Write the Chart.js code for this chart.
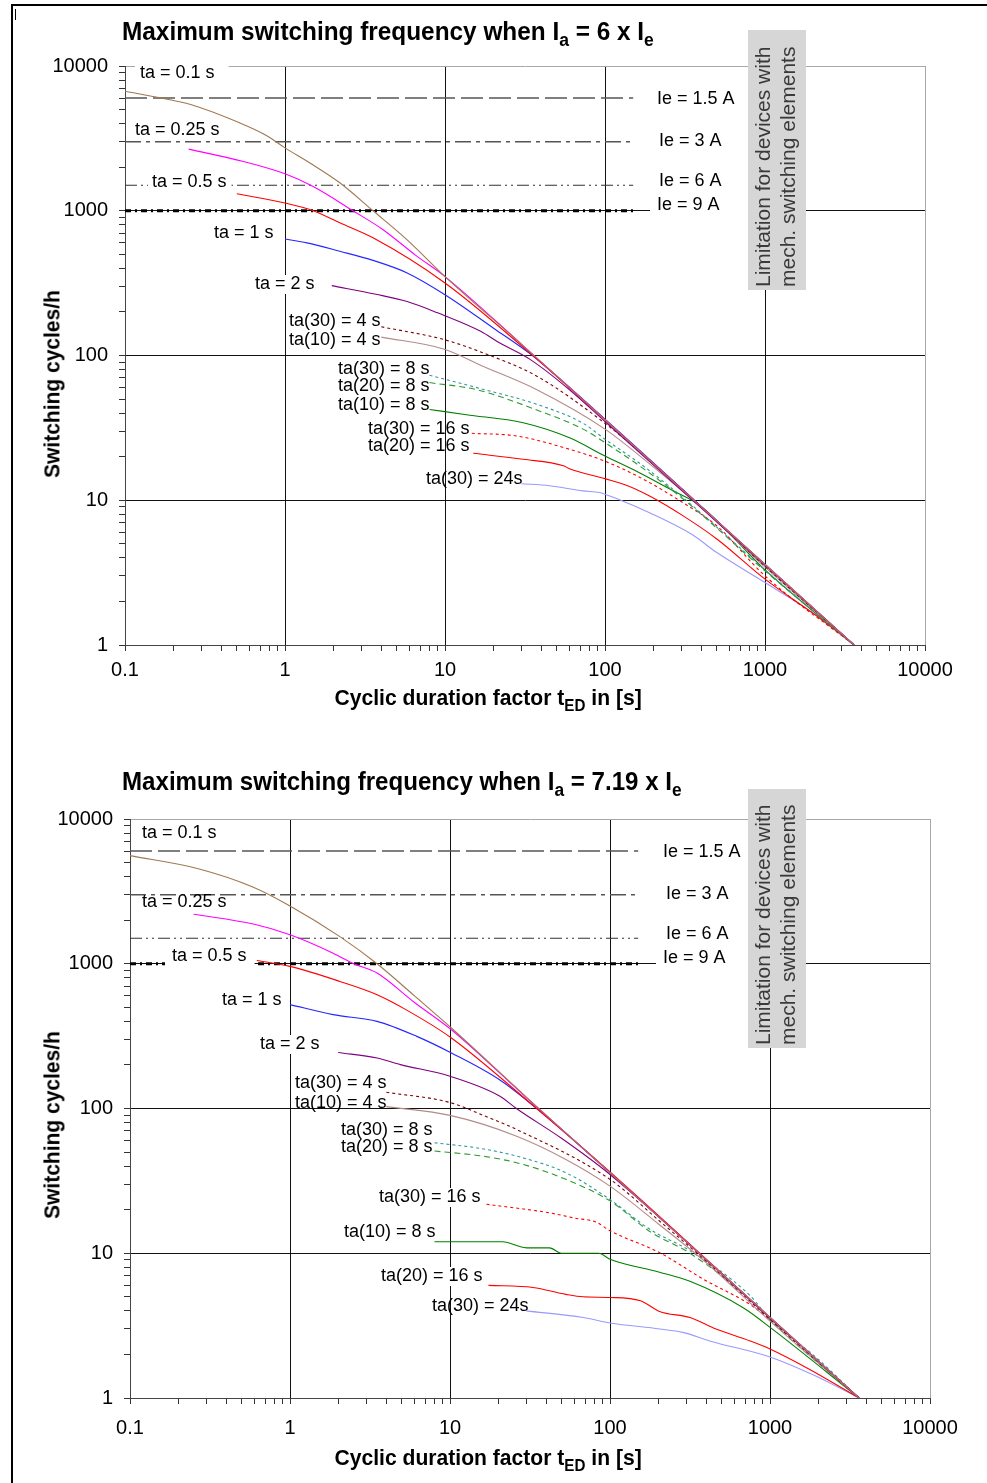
<!DOCTYPE html>
<html>
<head>
<meta charset="utf-8">
<script src="https://cdn.jsdelivr.net/npm/chart.js@4.4.1/dist/chart.umd.min.js"></script>
<style>
  body { margin: 0; background: #fff; }
  #page { position: relative; width: 987px; height: 1483px; overflow: hidden; background: #fff; }
  .frame { position: absolute; left: 11px; top: 4px; width: 990px; height: 1490px; border-top: 2px solid #000; border-left: 2px solid #000; }
  .nick { position: absolute; left: 15px; top: 9px; width: 1px; height: 11px; background: #000; }
  canvas { position: absolute; left: 0; }
  .ttl { position: absolute; font-family: "Liberation Sans", Arial, sans-serif; font-weight: bold; color: #000;
         white-space: nowrap; line-height: 26px; z-index: 2; }
  .ttl sub { font-size: 72%; vertical-align: -0.35em; line-height: 0; }
  .main { font-size: 25px; }
  .xt, .yt { font-size: 22px; }
</style>
</head>
<body>
<div id="page">
  <div class="frame"></div>
  <div class="nick"></div>

  <div class="ttl main" id="mainA">Maximum switching frequency when I<sub>a</sub> = 6 x I<sub>e</sub></div>
  <div class="ttl yt" id="yA">Switching cycles/h</div>
  <div class="ttl xt" id="xA">Cyclic duration factor t<sub>ED</sub> in [s]</div>
  <canvas id="chartA" width="987" height="740" style="top:0"></canvas>

  <div class="ttl main" id="mainB">Maximum switching frequency when I<sub>a</sub> = 7.19 x I<sub>e</sub></div>
  <div class="ttl yt" id="yB">Switching cycles/h</div>
  <div class="ttl xt" id="xB">Cyclic duration factor t<sub>ED</sub> in [s]</div>
  <canvas id="chartB" width="987" height="743" style="top:740px"></canvas>
</div>

<script>
// axis decades and their tick labels
const X_DECADES = [0.1, 1, 10, 100, 1000, 10000];
const X_TICK_LABELS = ['0.1', '1', '10', '100', '1000', '10000'];
const Y_DECADES = [1, 10, 100, 1000, 10000];
const Y_TICK_LABELS = ['1', '10', '100', '1000', '10000'];

// curve names (same order in both charts)
const SERIES_NAMES = ['ta = 0.1 s', 'ta = 0.25 s', 'ta = 0.5 s', 'ta = 1 s', 'ta = 2 s',
  'ta(30) = 4 s', 'ta(10) = 4 s', 'ta(30) = 8 s', 'ta(20) = 8 s', 'ta(10) = 8 s',
  'ta(30) = 16 s', 'ta(20) = 16 s', 'ta(30) = 24s'];

// rated current limits (horizontal lines)
const IE_NAMES = ['Ie = 1.5 A', 'Ie = 3 A', 'Ie = 6 A', 'Ie = 9 A'];
const IE_LEVELS = [6000, 3000, 1500, 1000];
const IE_X = [0.1, 150];

const LIMIT_TEXT = ['Limitation for devices with', 'mech. switching elements'];

// Ia = 6 x Ie : [tED s, cycles/h]
const a_ta0_1 = [[0.1,6700],[0.17,6000],[0.26,5400],[0.52,4050],[0.77,3300],[1,2720],[1.43,2140],[2.2,1560],[3.55,1000],[5.8,630],[10,351],[30,120],[100,36],[1000,3.6],[3600,1]];
const a_ta0_25 = [[0.25,2665],[0.55,2190],[1,1800],[1.5,1470],[2.66,1000],[4.1,740],[6.6,490],[10,351],[30,120],[100,36],[1000,3.6],[3600,1]];
const a_ta0_5 = [[0.5,1310],[1,1130],[1.5,1000],[2.2,825],[3.55,650],[10,317],[32,110],[100,36],[1000,3.6],[3600,1]];
const a_ta1 = [[1,638],[1.37,600],[2.2,525],[3.55,454],[5.8,372],[10,263],[20,155],[35.5,99],[100,36.3],[1000,3.6],[3600,1]];
const a_ta2 = [[1.96,304],[3.7,265],[5.8,236],[8.9,198],[16.7,147],[22,122],[34,94],[60,58],[100,35],[1000,3.55],[3600,1]];
const a_ta30_4 = [[4,158],[9.8,129],[17.4,104],[37.5,72],[100,34],[200,18],[400,9],[1000,3.5],[3600,1]];
const a_ta10_4 = [[4,134],[9.8,111],[17.4,84],[37.5,58],[100,31],[200,17],[400,8.9],[1000,3.45],[3600,1]];
const a_ta30_8 = [[8,73],[15.8,60],[37.5,46],[73,34],[100,26.4],[173,17.3],[308,10.4],[1000,3.3],[3600,1]];
const a_ta20_8 = [[8,65],[15.8,58],[37.5,42],[73,31],[100,25],[173,16.6],[308,10.2],[1000,3.25],[3600,1]];
const a_ta10_8 = [[8,42.4],[13.6,39],[30.8,34.3],[60,27],[100,20.2],[164,15.5],[256,11.9],[395,9.15],[1000,3.3],[3600,1]];
const a_ta30_16 = [[14.7,29],[28,27.8],[60,22.5],[100,18.6],[173,14],[308,9.6],[500,6.65],[1000,3],[3600,1]];
const a_ta20_16 = [[15,21.1],[30.8,19.2],[55,17.3],[60,16.5],[100,14.1],[136,12.7],[190,10.7],[308,7.8],[500,5.4],[1000,2.85],[2100,1.59],[3600,1]];
const a_ta30_24 = [[30,13],[45,12.6],[73,11.6],[93,11.3],[100,11],[118,10.3],[190,8.2],[350,5.8],[500,4.35],[1000,2.7],[2100,1.6],[3600,1]];

// Ia = 7.19 x Ie : [tED s, cycles/h]
const b_ta0_1 = [[0.1,5585],[0.26,4570],[0.59,3380],[1,2510],[2.05,1540],[3.5,1000],[6,600],[10.2,360],[30,120],[100,36],[1000,3.6],[3600,1]];
const b_ta0_25 = [[0.25,2200],[0.59,1880],[1,1585],[1.86,1183],[2.5,1000],[3.5,863],[6,540],[10.2,350],[30,119],[100,36],[1000,3.6],[3600,1]];
const b_ta0_5 = [[0.62,1054],[1,959],[2.05,755],[3.5,611],[5.3,482],[10.2,307],[30,115],[100,36.5],[1000,3.6],[3600,1]];
const b_ta1 = [[1,522],[1.86,445],[3.5,400],[6.2,315],[10.2,242],[20.4,158],[40,88],[100,36],[1000,3.6],[3600,1]];
const b_ta2 = [[2,244],[3.5,223],[4.9,201],[10,167],[20.4,122],[26,100],[50,62],[100,35],[1000,3.55],[3600,1]];
const b_ta30_4 = [[4,129.5],[10,110],[16,90],[26.1,71.6],[100,32.4],[200,17],[400,8.8],[1000,3.5],[3600,1]];
const b_ta10_4 = [[4,103],[10,89.6],[26.1,64.4],[53,44.5],[100,29.1],[200,16],[400,8.6],[1000,3.4],[3600,1]];
const b_ta30_8 = [[8,58],[16,52.7],[28.6,45.6],[53,36],[100,23.5],[178,14.6],[316,10.4],[750,5.1],[1000,3.5],[1950,1.9],[3600,1]];
const b_ta20_8 = [[8,50.8],[16,46.9],[28.6,41.1],[53,32.4],[100,23],[180,14],[316,10],[750,4.8],[1000,3.45],[3600,1]];
const b_ta10_8 = [[8,12],[21.3,12],[30,10.9],[42,10.9],[49.5,10],[85,10],[100,9.1],[204,7.4],[316,6.4],[680,4.2],[1030,3],[3600,1]];
const b_ta30_16 = [[16.9,21.8],[42,19],[60,17.5],[82,16.4],[100,14.3],[204,10.1],[385,6.6],[780,4.3],[1050,3.3],[3600,1]];
const b_ta20_16 = [[17.4,6],[33,5.8],[53,5.2],[68,5],[100,4.95],[155,4.7],[204,3.96],[316,3.6],[460,3],[750,2.48],[1000,2.18],[1760,1.58],[3600,1]];
const b_ta30_24 = [[30,4],[68,3.6],[100,3.3],[204,3],[285,2.84],[420,2.48],[1030,1.9],[1900,1.43],[3600,1]];

const CURVES_A = [a_ta0_1, a_ta0_25, a_ta0_5, a_ta1, a_ta2, a_ta30_4, a_ta10_4, a_ta30_8, a_ta20_8, a_ta10_8, a_ta30_16, a_ta20_16, a_ta30_24];
const CURVES_B = [b_ta0_1, b_ta0_25, b_ta0_5, b_ta1, b_ta2, b_ta30_4, b_ta10_4, b_ta30_8, b_ta20_8, b_ta10_8, b_ta30_16, b_ta20_16, b_ta30_24];

// styles
const SERIES_COLORS = ['#a07850', '#ff00ff', '#ff0000', '#2626ff', '#800080', '#800000', '#b58a8a',
  '#2e9a9a', '#2e9a2e', '#008000', '#ff0000', '#ff0000', '#9999ff'];
const SERIES_DASH = [[], [], [], [], [], [3, 3], [], [3, 3], [6, 4], [], [3, 3], [], []];
const IE_COLORS = ['#555', '#555', '#333', '#000'];
const IE_WIDTHS = [1.5, 1.5, 1.2, 3];
const IE_DASH = [[22, 6], [16, 5, 4, 5], [12, 4, 2, 4, 2, 4], [6, 4, 2, 4]];

// label placement, px from chart-area top-left: [dx, dy, padLeft, padRight] (pad null = no white box)
const LABEL_POS_A = [[15,7,5,14],[10,64,4,4],[27,116,4,5],[89,167,8,8],[130,218,7,7],[164,255,null],[164,274,null],
  [213,303,null],[213,320,null],[213,339,null],[243,363,null],[243,380,null],[301,413,null]];
const LABEL_POS_B = [[12,14,4,4],[12,83,null],[42,137,7,8],[92,181,5,4],[130,225,7,7],[165,264,null],[165,284,null],
  [211,311,null],[211,328,null],[214,413,null],[249,378,7,3],[251,457,8,3],[302,487,null]];
const IE_POS_A = [[532,33,5,5],[534,75,5,5],[534,115,5,5],[532,139,7,30]];
const IE_POS_B = [[533,33,5,5],[536,75,5,5],[536,115,5,5],[533,139,7,30]];

const FONT = '"Liberation Sans", Arial, sans-serif';

function logTicks(decades) {
  const out = [];
  decades.forEach((d, i) => {
    if (i === decades.length - 1) { out.push({ value: d }); return; }
    for (let m = 1; m <= 9; m++) out.push({ value: m === 1 ? d : +(m * d).toPrecision(6) });
  });
  return out;
}
function decadeIndex(v, decades) { return decades.findIndex(d => Math.abs(v / d - 1) < 1e-6); }
function gridColor(v, decades) {
  const i = decadeIndex(v, decades);
  if (i < 0) return 'rgba(0,0,0,0)';
  if (i === decades.length - 1) return '#a8a8a8';
  if (i === 0) return '#444';
  return '#111';
}

function drawLabel(ctx, ca, text, pos) {
  const x = ca.left + pos[0], y = ca.top + pos[1];
  if (pos[2] != null) {
    const w = ctx.measureText(text).width;
    ctx.fillStyle = '#fff';
    ctx.fillRect(x - pos[2], y - 9, w + pos[2] + pos[3], 19);
  }
  ctx.fillStyle = '#000';
  ctx.fillText(text, x, y);
}

const overlayPlugin = {
  id: 'overlay',
  afterDatasetsDraw(chart, args, opts) {
    const { ctx, chartArea: ca } = chart;
    ctx.save();
    ctx.font = '18px ' + FONT;
    ctx.textBaseline = 'middle';
    ctx.textAlign = 'left';
    SERIES_NAMES.forEach((t, i) => drawLabel(ctx, ca, t, opts.labels[i]));
    IE_NAMES.forEach((t, i) => drawLabel(ctx, ca, t, opts.ie[i]));

    // grey box: limitation for devices with mechanical switching elements
    const b = opts.box;
    ctx.fillStyle = '#d6d6d6';
    ctx.fillRect(ca.left + b[0], ca.top + b[1], b[2], b[3]);
    ctx.translate(ca.left + b[0] + b[2] / 2, ca.top + b[1] + b[3] - 3);
    ctx.rotate(-Math.PI / 2);
    ctx.fillStyle = '#3a3a3a';
    ctx.font = '21px ' + FONT;
    ctx.fillText(LIMIT_TEXT[0], 0, -12.5);
    ctx.fillText(LIMIT_TEXT[1], 0, 12.5);
    ctx.restore();
  }
};

function buildChart(id, curves, labelPos, iePos, box, padding, xPad) {
  const datasets = curves.map((pts, i) => ({
    label: SERIES_NAMES[i],
    data: pts.map(p => ({ x: p[0], y: p[1] })),
    showLine: true,
    borderColor: SERIES_COLORS[i],
    borderWidth: 1.1,
    borderDash: SERIES_DASH[i],
    pointRadius: 0,
    cubicInterpolationMode: 'monotone',
    fill: false
  }));
  IE_LEVELS.forEach((lv, i) => {
    datasets.push({
      label: IE_NAMES[i],
      data: IE_X.map(x => ({ x: x, y: lv })),
      showLine: true,
      borderColor: IE_COLORS[i],
      borderWidth: IE_WIDTHS[i],
      borderDash: IE_DASH[i],
      pointRadius: 0,
      fill: false
    });
  });

  return new Chart(document.getElementById(id), {
    type: 'scatter',
    data: { datasets: datasets },
    options: {
      responsive: false,
      animation: false,
      devicePixelRatio: 1,
      layout: { padding: padding },
      plugins: {
        legend: { display: false },
        tooltip: { enabled: false },
        overlay: { labels: labelPos, ie: iePos, box: box }
      },
      scales: {
        x: {
          type: 'logarithmic',
          min: 0.1,
          max: 10000,
          afterBuildTicks: s => { s.ticks = logTicks(X_DECADES); },
          afterFit: s => { s.height = 60; },
          ticks: {
            autoSkip: false, maxRotation: 0, padding: xPad, color: '#000',
            font: { family: FONT, size: 20 },
            callback: v => { const i = decadeIndex(v, X_DECADES); return i >= 0 ? X_TICK_LABELS[i] : ''; }
          },
          grid: { color: c => gridColor(c.tick.value, X_DECADES), tickColor: '#333', tickLength: 6 },
          border: { color: '#444' }
        },
        y: {
          type: 'logarithmic',
          min: 1,
          max: 10000,
          afterBuildTicks: s => { s.ticks = logTicks(Y_DECADES); },
          afterFit: s => { s.width = padding.yw; },
          ticks: {
            autoSkip: false, padding: 11, color: '#000',
            font: { family: FONT, size: 20 },
            callback: v => { const i = decadeIndex(v, Y_DECADES); return i >= 0 ? Y_TICK_LABELS[i] : ''; }
          },
          grid: { color: c => gridColor(c.tick.value, Y_DECADES), tickColor: '#333', tickLength: 6 },
          border: { color: '#444' }
        }
      }
    },
    plugins: [overlayPlugin]
  });
}

buildChart('chartA', CURVES_A, LABEL_POS_A, IE_POS_A, [623, -36, 58, 260],
  { left: 0, top: 66, right: 62, bottom: 35, yw: 125 }, 7);
buildChart('chartB', CURVES_B, LABEL_POS_B, IE_POS_B, [618, -30, 58, 259],
  { left: 0, top: 79, right: 57, bottom: 25, yw: 130 }, 12);

// squeeze the bold titles to the condensed width of the original
function placeTitle(id, targetW, cx, cy, rotated, leftAligned) {
  const el = document.getElementById(id);
  const w = el.offsetWidth, h = el.offsetHeight;
  const s = targetW / w;
  if (rotated) {
    el.style.left = (cx - w / 2) + 'px';
    el.style.top = (cy - h / 2) + 'px';
    el.style.transform = 'rotate(-90deg) scaleX(' + s + ')';
  } else if (leftAligned) {
    el.style.left = cx + 'px';
    el.style.top = (cy - h / 2) + 'px';
    el.style.transformOrigin = '0 50%';
    el.style.transform = 'scaleX(' + s + ')';
  } else {
    el.style.left = (cx - w / 2) + 'px';
    el.style.top = (cy - h / 2) + 'px';
    el.style.transform = 'scaleX(' + s + ')';
  }
}
placeTitle('mainA', 532, 122, 31, false, true);
placeTitle('mainB', 560, 122, 781, false, true);
placeTitle('xA', 307, 488, 698, false, false);
placeTitle('xB', 307, 488, 1458, false, false);
placeTitle('yA', 188, 52, 384, true, false);
placeTitle('yB', 188, 52, 1125, true, false);
</script>
</body>
</html>
